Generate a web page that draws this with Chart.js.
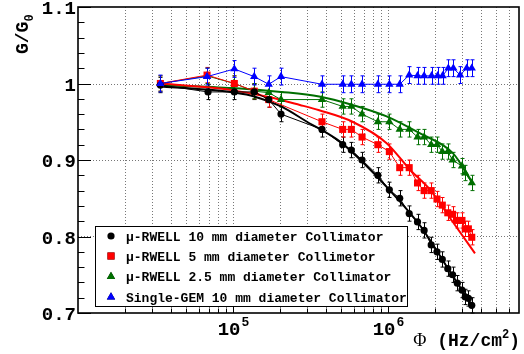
<!DOCTYPE html>
<html>
<head>
<meta charset="utf-8">
<script src="https://cdn.jsdelivr.net/npm/chart.js@4"></script>
<style>
  html, body { margin: 0; padding: 0; background: #fff; }
  #c { display: block; }
</style>
</head>
<body>
<canvas id="c" width="524" height="354"></canvas>
<script>
// measured points (flux in Hz/cm2, normalised gain)
const blackX = [3.4e4, 6.9e4, 1.02e5, 1.37e5, 1.7e5, 2.04e5, 3.75e5, 5.1e5, 5.8e5, 6.8e5, 8.6e5, 1.02e6, 1.19e6, 1.37e6, 1.55e6, 1.71e6, 1.9e6, 2.07e6, 2.24e6, 2.43e6, 2.61e6, 2.8e6, 3.0e6, 3.15e6, 3.3e6, 3.47e6]
const blackY = [0.998, 0.989, 0.989, 0.989, 0.979, 0.960, 0.940, 0.920, 0.913, 0.900, 0.880, 0.861, 0.850, 0.830, 0.819, 0.808, 0.789, 0.780, 0.770, 0.758, 0.750, 0.739, 0.730, 0.721, 0.719, 0.710]

const redX = [3.4e4, 6.8e4, 1.02e5, 1.37e5, 1.7e5, 3.75e5, 5.1e5, 5.8e5, 6.8e5, 8.6e5, 1.02e6, 1.19e6, 1.37e6, 1.55e6, 1.71e6, 1.9e6, 2.07e6, 2.24e6, 2.43e6, 2.61e6, 2.8e6, 3.0e6, 3.15e6, 3.3e6, 3.47e6]
const redY = [1.000, 1.011, 1.000, 0.990, 0.979, 0.950, 0.940, 0.940, 0.930, 0.920, 0.911, 0.890, 0.890, 0.870, 0.860, 0.860, 0.849, 0.841, 0.831, 0.829, 0.821, 0.821, 0.810, 0.810, 0.799]

const greenX = [3.4e4, 6.8e4, 1.02e5, 1.37e5, 1.7e5, 2.04e5, 3.75e5, 5.1e5, 5.8e5, 6.8e5, 8.6e5, 1.02e6, 1.19e6, 1.37e6, 1.55e6, 1.71e6, 1.9e6, 2.07e6, 2.24e6, 2.43e6, 2.61e6, 3.0e6, 3.15e6, 3.47e6]
const greenY = [1.000, 1.010, 1.000, 0.990, 0.988, 0.979, 0.979, 0.970, 0.970, 0.960, 0.950, 0.950, 0.940, 0.940, 0.930, 0.930, 0.920, 0.920, 0.911, 0.911, 0.900, 0.892, 0.883, 0.870]

const blueX = [3.4e4, 6.8e4, 1.02e5, 1.37e5, 1.7e5, 2.04e5, 3.75e5, 5.1e5, 5.8e5, 6.8e5, 8.6e5, 1.02e6, 1.19e6, 1.37e6, 1.55e6, 1.71e6, 1.91e6, 2.09e6, 2.25e6, 2.45e6, 2.64e6, 2.92e6, 3.22e6, 3.47e6]
const blueY = [1.000, 1.009, 1.019, 1.009, 0.999, 1.009, 0.999, 0.999, 0.999, 0.999, 0.999, 0.999, 0.999, 1.011, 1.010, 1.010, 1.010, 1.010, 1.010, 1.020, 1.020, 1.011, 1.020, 1.020]

// error bar half-widths
const blackErr = 0.010
const redErr = 0.010
const greenErr = 0.010
const blueErr = 0.011

// fit curves
const blackFitX = [3.4e4, 6.8e4, 1.02e5, 1.37e5, 2.04e5, 3.0e5, 4.9e5, 6.8e5, 1.02e6, 1.6e6, 2.64e6, 3.47e6]
const blackFitY = [0.996, 0.992, 0.988, 0.983, 0.970, 0.950, 0.924, 0.898, 0.861, 0.815, 0.747, 0.710]
const redFitX = [3.4e4, 6.8e4, 1.0e5, 1.73e5, 2.7e5, 3.6e5, 5.9e5, 9.8e5, 1.39e6, 1.87e6, 2.62e6, 3.64e6]
const redFitY = [1.000, 0.995, 0.991, 0.982, 0.972, 0.965, 0.950, 0.922, 0.887, 0.861, 0.819, 0.778]
const greenFitX = [3.4e4, 1.0e5, 2.04e5, 3.6e5, 5.9e5, 9.8e5, 1.6e6, 2.62e6, 3.47e6]
const greenFitY = [0.998, 0.994, 0.989, 0.983, 0.972, 0.957, 0.935, 0.909, 0.872]

const labels = [
  'μ-RWELL 10 mm diameter Collimator',
  'μ-RWELL 5 mm diameter Collimetor',
  'μ-RWELL 2.5 mm diameter Collimator',
  'Single-GEM 10 mm diameter Collimator'
]

const xMajor = [1e5, 1e6]
const xMajorExp = ['5', '6']
const yMajor = [0.7, 0.8, 0.9, 1.0, 1.1]
const yMajorText = ['0.7', '0.8', '0.9', '1', '1.1']
const yGrid = [0.8, 0.9, 1.0]

const BLACK = '#000000'
const RED = '#ff0000'
const GREEN = '#006f00'
const BLUE = '#0000ff'
const MONO = '"Liberation Mono", "DejaVu Sans Mono", monospace'

const zip = (xs, ys) => xs.map((x, i) => ({ x, y: ys[i] }))

function seriesSet(label, xs, ys, err, color, style, radius, order) {
  return {
    label,
    data: zip(xs, ys),
    err,
    borderColor: color,
    backgroundColor: color,
    borderWidth: 1,
    pointStyle: style,
    pointRadius: radius,
    pointBorderWidth: 0,
    showLine: true,
    tension: 0,
    order
  }
}

function fitSet(xs, ys, color, order) {
  return {
    label: 'fit',
    isFit: true,
    data: zip(xs, ys),
    borderColor: color,
    borderWidth: 2,
    pointRadius: 0,
    showLine: true,
    cubicInterpolationMode: 'monotone',
    order
  }
}

const datasets = [
  seriesSet(labels[0], blackX, blackY, blackErr, BLACK, 'circle', 3.6, 1),
  seriesSet(labels[1], redX, redY, redErr, RED, 'rect', 5, 2),
  seriesSet(labels[2], greenX, greenY, greenErr, GREEN, 'triangle', 4.8, 3),
  seriesSet(labels[3], blueX, blueY, blueErr, BLUE, 'triangle', 4.8, 0),
  fitSet(blackFitX, blackFitY, BLACK, 5),
  fitSet(redFitX, redFitY, RED, 6),
  fitSet(greenFitX, greenFitY, GREEN, 7)
]

const rootStyle = {
  id: 'rootStyle',
  beforeDatasetsDraw(chart) {
    const { ctx, chartArea: a, scales: { x, y } } = chart
    ctx.save()
    ctx.strokeStyle = '#777'
    ctx.lineWidth = 1
    ctx.setLineDash([1, 2])
    // vertical grid on every decade step
    for (let d = 1e4; d < 1e7; d *= 10) {
      for (let m = 1; m <= 9; m++) {
        const v = m * d
        const px = Math.round(x.getPixelForValue(v)) + 0.5
        if (px <= a.left + 1 || px >= a.right - 1) continue
        ctx.beginPath(); ctx.moveTo(px, a.top); ctx.lineTo(px, a.bottom); ctx.stroke()
      }
    }
    yGrid.forEach(v => {
      const py = Math.round(y.getPixelForValue(v)) + 0.5
      ctx.beginPath(); ctx.moveTo(a.left, py); ctx.lineTo(a.right, py); ctx.stroke()
    })
    ctx.setLineDash([])

    // error bars
    chart.data.datasets.forEach(ds => {
      if (ds.isFit) return
      ctx.strokeStyle = ds.borderColor
      ctx.lineWidth = 1
      ds.data.forEach(p => {
        const px = Math.round(x.getPixelForValue(p.x)) + 0.5
        const y1 = y.getPixelForValue(p.y + ds.err)
        const y2 = y.getPixelForValue(p.y - ds.err)
        ctx.beginPath()
        ctx.moveTo(px, y1); ctx.lineTo(px, y2)
        ctx.moveTo(px - 2, y1); ctx.lineTo(px + 2, y1)
        ctx.moveTo(px - 2, y2); ctx.lineTo(px + 2, y2)
        ctx.stroke()
      })
    })
    ctx.restore()
  },
  afterDraw(chart) {
    const { ctx, chartArea: a, scales: { x, y } } = chart
    ctx.save()
    ctx.fillStyle = BLACK
    ctx.strokeStyle = BLACK

    // inward ticks
    ctx.lineWidth = 1
    for (let d = 1e4; d < 1e7; d *= 10) {
      for (let m = 1; m <= 9; m++) {
        const v = m * d
        const px = Math.round(x.getPixelForValue(v)) + 0.5
        if (px <= a.left + 1 || px >= a.right - 1) continue
        const len = m === 1 ? 9 : 4.5
        ctx.beginPath(); ctx.moveTo(px, a.bottom); ctx.lineTo(px, a.bottom - len); ctx.stroke()
      }
    }
    for (let i = 0; i <= 20; i++) {
      const v = 0.7 + i * 0.02
      const py = Math.round(y.getPixelForValue(v)) + 0.5
      const len = i % 5 === 0 ? 13 : 6.5
      ctx.beginPath(); ctx.moveTo(a.left, py); ctx.lineTo(a.left + len, py); ctx.stroke()
    }

    // frame
    ctx.lineWidth = 1.6
    ctx.strokeRect(a.left, a.top, a.right - a.left, a.bottom - a.top)

    // y labels
    ctx.font = 'bold 19px ' + MONO
    ctx.textAlign = 'right'
    ctx.textBaseline = 'alphabetic'
    yMajor.forEach((v, i) => {
      ctx.fillText(yMajorText[i], a.left - 2, y.getPixelForValue(v) + 7)
    })

    // x labels 10^n
    ctx.textAlign = 'left'
    xMajor.forEach((v, i) => {
      const px = x.getPixelForValue(v)
      ctx.font = 'bold 19px ' + MONO
      const w1 = ctx.measureText('10').width
      ctx.font = 'bold 13px ' + MONO
      const w2 = ctx.measureText(xMajorExp[i]).width
      const left = px - (w1 + w2) / 2
      ctx.font = 'bold 19px ' + MONO
      ctx.fillText('10', left, 335)
      ctx.font = 'bold 13px ' + MONO
      ctx.fillText(xMajorExp[i], left + w1 + 1, 326)
    })

    // x title
    ctx.textAlign = 'right'
    ctx.font = 'bold 18px ' + MONO
    const tail = ')'
    const tw = ctx.measureText(tail).width
    ctx.fillText(tail, 520, 346)
    ctx.font = 'bold 12px ' + MONO
    const sw = ctx.measureText('2').width
    ctx.fillText('2', 520 - tw, 338)
    ctx.font = 'bold 18px ' + MONO
    const mid = ' (Hz/cm'
    const mw = ctx.measureText(mid).width
    ctx.fillText(mid, 520 - tw - sw, 346)
    ctx.font = '18px "Liberation Serif", serif'
    ctx.fillText('Φ', 520 - tw - sw - mw, 346)

    // y title
    ctx.save()
    ctx.translate(28, 54)
    ctx.rotate(-Math.PI / 2)
    ctx.textAlign = 'left'
    ctx.font = 'bold 18px ' + MONO
    ctx.fillText('G/G', 0, 0)
    const gw = ctx.measureText('G/G').width
    ctx.font = 'bold 12px ' + MONO
    ctx.fillText('0', gw, 5)
    ctx.restore()

    // legend
    const lx = 95, ly = 226, lw = 312, lh = 80
    ctx.fillStyle = '#fff'
    ctx.fillRect(lx, ly, lw, lh)
    ctx.lineWidth = 1
    ctx.strokeStyle = BLACK
    ctx.strokeRect(lx + 0.5, ly + 0.5, lw, lh)
    ctx.font = 'bold 13px ' + MONO
    ctx.textAlign = 'left'
    const rows = [236, 256, 276.5, 297]
    chart.data.datasets.filter(ds => !ds.isFit).forEach((ds, i) => {
      Chart.helpers.drawPoint(ctx, {
        pointStyle: ds.pointStyle,
        radius: ds.pointRadius,
        rotation: 0,
        borderWidth: 0
      }, 111, rows[i])
      ctx.fillStyle = ds.backgroundColor
      ctx.fill()
      ctx.fillStyle = BLACK
      ctx.fillText(ds.label, 126, rows[i] + 4.5)
    })
    ctx.restore()
  }
}

new Chart(document.getElementById('c'), {
  type: 'scatter',
  data: { datasets },
  options: {
    responsive: false,
    animation: false,
    devicePixelRatio: 1,
    layout: { padding: { left: 78, top: 7, right: 5, bottom: 41 } },
    plugins: { legend: { display: false }, tooltip: { enabled: false } },
    scales: {
      x: { type: 'logarithmic', min: 1e4, max: 7e6, display: false },
      y: { type: 'linear', min: 0.7, max: 1.1, display: false }
    }
  },
  plugins: [rootStyle]
})
</script>
</body>
</html>
